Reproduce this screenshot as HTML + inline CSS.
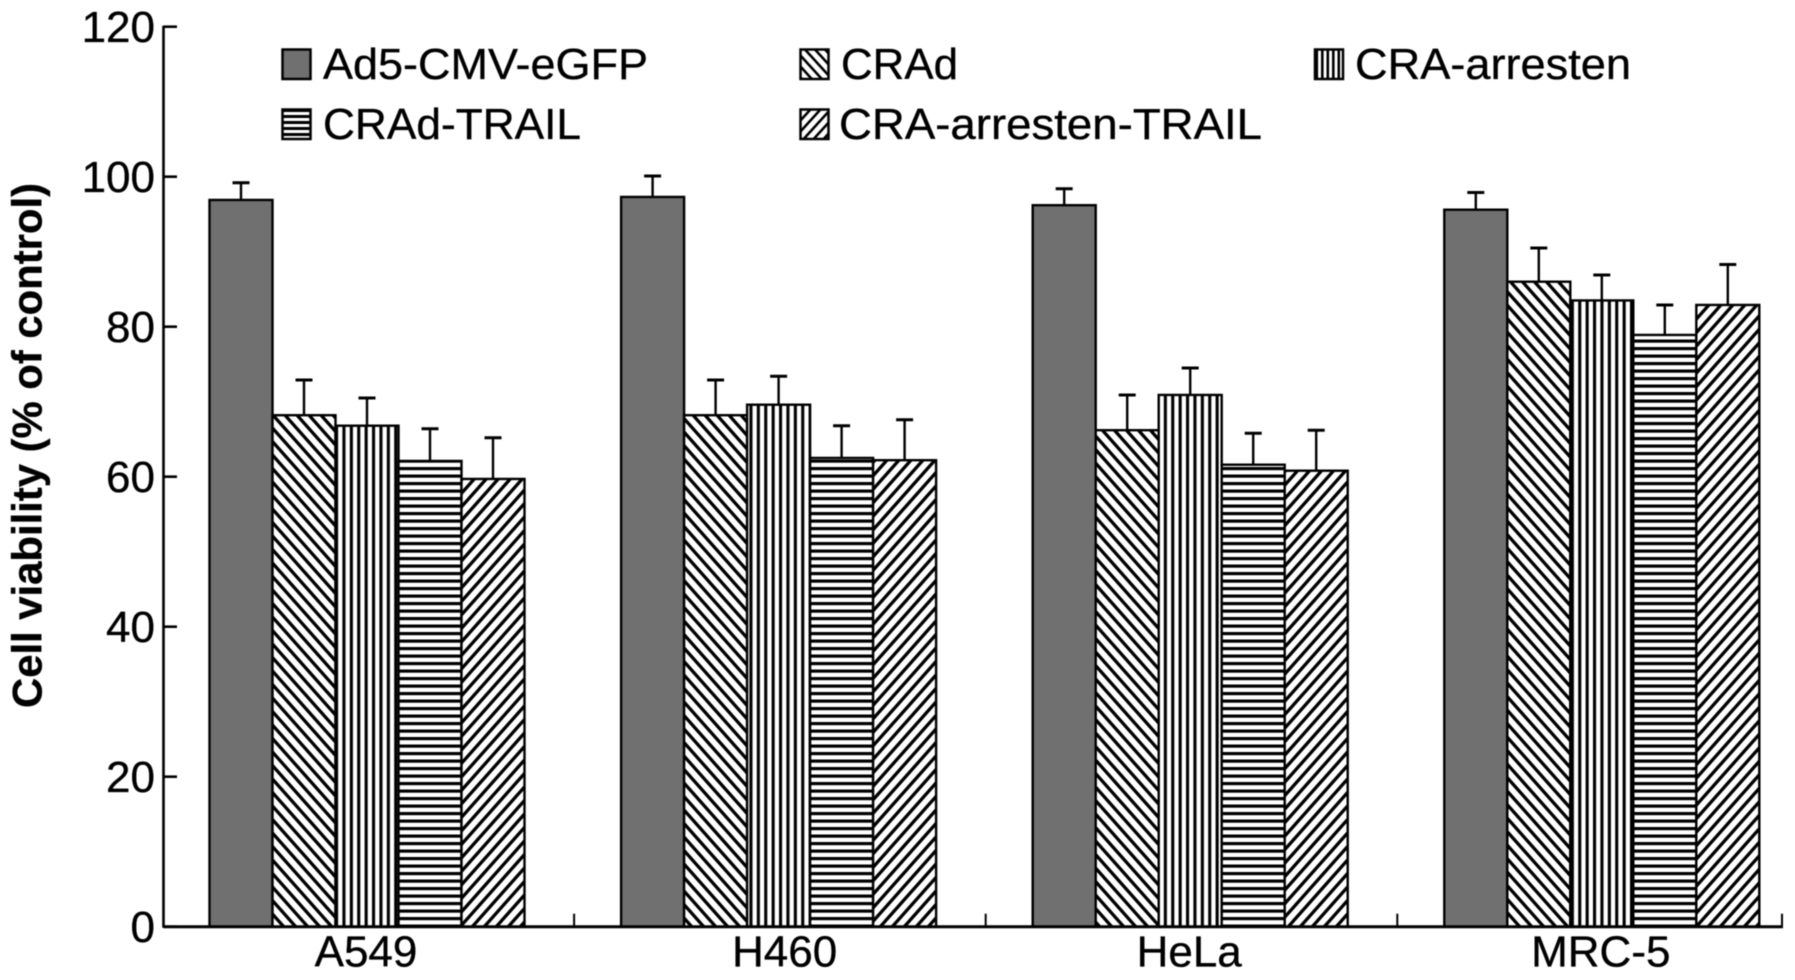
<!DOCTYPE html>
<html lang="en">
<head>
<meta charset="utf-8">
<title>Cell viability chart</title>
<style>
html,body{margin:0;padding:0;background:#fff;width:1795px;height:980px;overflow:hidden}
svg{display:block;filter:blur(0.45px)}
text{font-family:"Liberation Sans",Arial,sans-serif;fill:#000;stroke:#000;stroke-width:0.35px}
</style>
</head>
<body>
<svg id="chart" xmlns="http://www.w3.org/2000/svg" width="1795" height="980" viewBox="0 0 1795 980">
  <defs>
    <pattern id="p-back" patternUnits="userSpaceOnUse" width="12" height="13.5">
      <rect width="12" height="13.5" fill="#fff"/>
      <path d="M-12 -13.5L24 27M-12 0L12 27M0 -13.5L24 13.5" stroke="#000" stroke-width="3.3" fill="none"/>
    </pattern>
    <pattern id="p-vert" patternUnits="userSpaceOnUse" width="7.4" height="10">
      <rect width="7.4" height="10" fill="#fff"/>
      <rect x="2" width="3.1" height="10" fill="#000"/>
    </pattern>
    <pattern id="p-horz" patternUnits="userSpaceOnUse" width="10" height="7.5">
      <rect width="10" height="7.5" fill="#fff"/>
      <rect y="2" width="10" height="3.2" fill="#000"/>
    </pattern>
    <pattern id="p-fwd" patternUnits="userSpaceOnUse" width="12" height="13.5">
      <rect width="12" height="13.5" fill="#fff"/>
      <path d="M-12 27L24 -13.5M-12 13.5L12 -13.5M0 27L24 0" stroke="#000" stroke-width="3.3" fill="none"/>
    </pattern>
    <pattern id="l-back" patternUnits="userSpaceOnUse" width="10" height="11">
      <rect width="10" height="11" fill="#fff"/>
      <path d="M-10 -11L20 22M-10 0L10 22M0 -11L20 11" stroke="#000" stroke-width="2.6" fill="none"/>
    </pattern>
    <pattern id="l-vert" patternUnits="userSpaceOnUse" width="5.5" height="10">
      <rect width="5.5" height="10" fill="#fff"/>
      <rect x="1" width="2.6" height="10" fill="#000"/>
    </pattern>
    <pattern id="l-horz" patternUnits="userSpaceOnUse" width="10" height="6">
      <rect width="10" height="6" fill="#fff"/>
      <rect y="1" width="10" height="3" fill="#000"/>
    </pattern>
    <pattern id="l-fwd" patternUnits="userSpaceOnUse" width="10" height="11">
      <rect width="10" height="11" fill="#fff"/>
      <path d="M-10 22L20 -11M-10 11L10 -11M0 22L20 0" stroke="#000" stroke-width="2.6" fill="none"/>
    </pattern>
  </defs>

  <g id="bars"></g>
  <g id="axes"></g>

  <text transform="translate(41.5,708) rotate(-90)" font-size="41.5" font-weight="bold" textLength="525" lengthAdjust="spacingAndGlyphs">Cell viability (% of control)</text>

  <g>
    <g>
      <rect x="282.5" y="49.5" width="28" height="29.5" fill="#707070" stroke="#000" stroke-width="2.5"/>
      <text x="323" y="79" font-size="44" textLength="325" lengthAdjust="spacingAndGlyphs">Ad5-CMV-eGFP</text>
    </g>
    <g>
      <rect x="800.5" y="49.5" width="28" height="29.5" fill="url(#l-back)" stroke="#000" stroke-width="2.5"/>
      <text x="841" y="79" font-size="44" textLength="117" lengthAdjust="spacingAndGlyphs">CRAd</text>
    </g>
    <g>
      <rect x="1315" y="49.5" width="28" height="29.5" fill="url(#l-vert)" stroke="#000" stroke-width="2.5"/>
      <text x="1355" y="79" font-size="44" textLength="276" lengthAdjust="spacingAndGlyphs">CRA-arresten</text>
    </g>
    <g>
      <rect x="282.5" y="109.5" width="28" height="29.5" fill="url(#l-horz)" stroke="#000" stroke-width="2.5"/>
      <text x="323" y="139" font-size="44" textLength="258" lengthAdjust="spacingAndGlyphs">CRAd-TRAIL</text>
    </g>
    <g>
      <rect x="800.5" y="109.5" width="28" height="29.5" fill="url(#l-fwd)" stroke="#000" stroke-width="2.5"/>
      <text x="839" y="139" font-size="44" textLength="423" lengthAdjust="spacingAndGlyphs">CRA-arresten-TRAIL</text>
    </g>
  </g>
</svg>

<script>
var categories = ['A549', 'H460', 'HeLa', 'MRC-5'];
var seriesNames = ['ad5-cmv-egfp', 'crad', 'cra-arresten', 'crad-trail', 'cra-arresten-trail'];
var ad5Values = [96.9, 97.3, 96.2, 95.6];
var ad5Errors = [2.3, 2.8, 2.2, 2.3];
var cradValues = [68.2, 68.2, 66.2, 86.0];
var cradErrors = [4.7, 4.7, 4.7, 4.5];
var arrestenValues = [66.8, 69.6, 70.9, 83.5];
var arrestenErrors = [3.7, 3.8, 3.6, 3.4];
var cradTrailValues = [62.1, 62.5, 61.6, 78.9];
var cradTrailErrors = [4.3, 4.3, 4.2, 4.0];
var arrestenTrailValues = [59.7, 62.2, 60.8, 82.9];
var arrestenTrailErrors = [5.5, 5.4, 5.4, 5.4];
var yTicks = [0, 20, 40, 60, 80, 100, 120];

var seriesValues = [ad5Values, cradValues, arrestenValues, cradTrailValues, arrestenTrailValues];
var seriesErrors = [ad5Errors, cradErrors, arrestenErrors, cradTrailErrors, arrestenTrailErrors];
var seriesFills = ['#707070', 'url(#p-back)', 'url(#p-vert)', 'url(#p-horz)', 'url(#p-fwd)'];

var NS = 'http://www.w3.org/2000/svg';
var barsLayer = document.getElementById('bars');
var axesLayer = document.getElementById('axes');
var axisLeft = 163.5;
var axisRight = 1782;
var barWidth = 63;
var groupStep = 411.6;
var groupOrigin = 209.5;

function yScale(v) { return 926.7 - 7.5 * v; }
function groupX(i) { return groupOrigin + i * groupStep; }
function barX(i, s) { return groupX(i) + s * barWidth; }

function make(tag, attrs, parent) {
  var el = document.createElementNS(NS, tag);
  for (var k in attrs) { el.setAttribute(k, attrs[k]); }
  parent.appendChild(el);
  return el;
}

categories.forEach(function (cat, i) {
  seriesValues.forEach(function (vals, s) {
    var x = barX(i, s);
    var top = yScale(vals[i]);
    var errTop = yScale(vals[i] + seriesErrors[s][i]);
    var cx = x + barWidth / 2;

    var stem = make('line', {x1: cx, x2: cx, y1: top, y2: errTop, stroke: '#000', 'stroke-width': 2.4}, barsLayer);
    
    

    var cap = make('line', {x1: cx - 8.5, x2: cx + 8.5, y1: errTop, y2: errTop, stroke: '#000', 'stroke-width': 3}, barsLayer);
    
    

    var bar = make('rect', {x: x, y: top, width: barWidth, height: yScale(0) - top, fill: seriesFills[s], stroke: '#000', 'stroke-width': 2.4}, barsLayer);
    
    
  });

  var labelX = groupX(i) + 2.5 * barWidth + (i === 1 ? 6 : -1);
  var label = make('text', {x: labelX, y: 966.5, 'font-size': 44, 'text-anchor': 'middle'}, axesLayer);
  label.textContent = cat;
  
  

  if (i > 0) {
    var xt = make('line', {x1: groupX(i) - 47, x2: groupX(i) - 47, y1: yScale(0), y2: yScale(0) - 13, stroke: '#000', 'stroke-width': 2}, axesLayer);
    
    
  }
});

var endTick = make('line', {x1: axisRight, x2: axisRight, y1: yScale(0), y2: yScale(0) - 13, stroke: '#000', 'stroke-width': 2}, axesLayer);



var yAxis = make('line', {x1: axisLeft, x2: axisLeft, y1: yScale(120) - 1, y2: yScale(0) + 1, stroke: '#000', 'stroke-width': 2.6}, axesLayer);



var xAxis = make('line', {x1: axisLeft, x2: axisRight + 1, y1: yScale(0), y2: yScale(0), stroke: '#000', 'stroke-width': 3}, axesLayer);



yTicks.forEach(function (t) {
  var tick = make('line', {x1: axisLeft, x2: axisLeft + 13.5, y1: yScale(t), y2: yScale(t), stroke: '#000', 'stroke-width': 2.6}, axesLayer);
  
  

  var lab = make('text', {x: 155, y: yScale(t) + 15.5, 'font-size': 44, 'text-anchor': 'end'}, axesLayer);
  lab.textContent = String(t);
  
  
});
</script>
</body>
</html>
